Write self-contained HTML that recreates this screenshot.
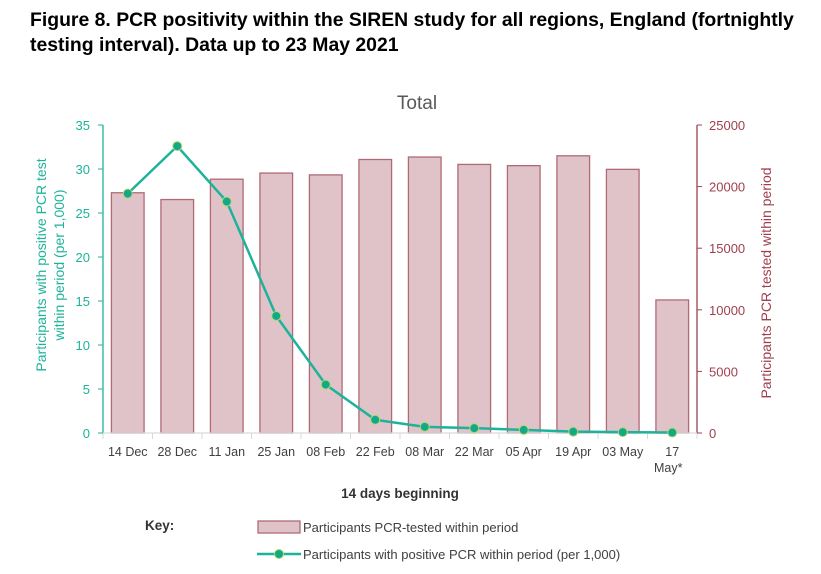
<!DOCTYPE html>
<html><head><meta charset="utf-8">
<style>
body{margin:0;background:#fff;width:821px;height:574px;overflow:hidden;font-family:"Liberation Sans",Arial,sans-serif}
h1{position:absolute;left:30px;top:8px;margin:0;font-size:19.4px;font-weight:bold;line-height:25px;color:#000;width:791px}
</style></head><body>
<h1>Figure 8. PCR positivity within the SIREN study for all regions, England (fortnightly testing interval). Data up to 23 May 2021</h1>
<svg id="c" width="821" height="574" style="position:absolute;left:0;top:0"></svg>
<script>
const categories=["14 Dec","28 Dec","11 Jan","25 Jan","08 Feb","22 Feb","08 Mar","22 Mar","05 Apr","19 Apr","03 May","17 May*"];
const testedValues=[19500,18950,20600,21100,20950,22200,22400,21800,21700,22500,21400,10800];
const positiveValues=[27.2,32.6,26.3,13.3,5.5,1.5,0.7,0.55,0.35,0.15,0.1,0.05];
const leftTicks=[0,5,10,15,20,25,30,35];
const rightTicks=[0,5000,10000,15000,20000,25000];
const svg=document.getElementById('c');const NS="http://www.w3.org/2000/svg";
function el(t,a,p){const e=document.createElementNS(NS,t);for(const k in a)e.setAttribute(k,a[k]);(p||svg).appendChild(e);return e;}
const X0=103,X1=697,Y0=433,Y1=125;
const bw=(X1-X0)/categories.length;
const yL=v=>Y0-(v/35)*(Y0-Y1);
const yR=v=>Y0-(v/25000)*(Y0-Y1);
const xC=i=>X0+bw*(i+0.5);
const teal="#1db39a",red="#a0404f";
let t=el('text',{x:417,y:109,'font-size':19,fill:'#595959','text-anchor':'middle','font-family':'Liberation Sans'});t.textContent='Total';

testedValues.forEach((v,i)=>{const r=el('rect',{x:xC(i)-bw*0.33,y:yR(v),width:bw*0.66,height:Y0-yR(v),fill:'#dfc3c8',stroke:'#b06a76','stroke-width':1.3});
});
el('line',{x1:X0,y1:Y1,x2:X0,y2:Y0,stroke:teal,'stroke-width':1.3});
el('line',{x1:X1,y1:Y1,x2:X1,y2:Y0,stroke:red,'stroke-width':1.3});
el('line',{x1:X0,y1:Y0,x2:X1,y2:Y0,stroke:'#d9d9d9','stroke-width':1.3});
for(let i=0;i<=categories.length;i++)el('line',{x1:X0+bw*i,y1:Y0,x2:X0+bw*i,y2:Y0+6,stroke:'#d9d9d9'});
leftTicks.forEach(v=>{el('line',{x1:X0-5,y1:yL(v),x2:X0,y2:yL(v),stroke:teal});
const tx=el('text',{x:X0-13,y:yL(v)+5,'font-size':13,fill:teal,'text-anchor':'end'});tx.textContent=v;
});
rightTicks.forEach(v=>{el('line',{x1:X1,y1:yR(v),x2:X1+5,y2:yR(v),stroke:red});
const tx=el('text',{x:X1+12,y:yR(v)+5,'font-size':13,fill:red});tx.textContent=v;
});
categories.forEach((c,i)=>{
 if(c==="17 May*"){let a=el('text',{x:xC(i),y:456,'font-size':12.5,fill:'#404040','text-anchor':'middle'});a.textContent='17';
 let b=el('text',{x:xC(i)-4,y:472,'font-size':12.5,fill:'#404040','text-anchor':'middle'});b.textContent='May*';
 }
 else{const tx=el('text',{x:xC(i),y:456,'font-size':12.5,fill:'#404040','text-anchor':'middle'});tx.textContent=c;
 }});
const pts=positiveValues.map((v,i)=>xC(i)+','+yL(v)).join(' ');
const pl=el('polyline',{points:pts,fill:'none',stroke:teal,'stroke-width':2.5});

positiveValues.forEach((v,i)=>{const c=el('circle',{cx:xC(i),cy:yL(v),r:4.5,fill:'#13a88c',stroke:'#b8d86a','stroke-width':1});
});
let yl=el('text',{transform:'translate(46,265) rotate(-90)','font-size':14,fill:teal,'text-anchor':'middle'});yl.textContent='Participants with positive PCR test';

let yl2=el('text',{transform:'translate(64,265) rotate(-90)','font-size':14,fill:teal,'text-anchor':'middle'});yl2.textContent='within period (per 1,000)';

let yr=el('text',{transform:'translate(771,283) rotate(-90)','font-size':14,fill:red,'text-anchor':'middle'});yr.textContent='Participants PCR tested within period';

let xt=el('text',{x:400,y:498,'font-size':13.5,'font-weight':'bold',fill:'#333','text-anchor':'middle'});xt.textContent='14 days beginning';

let k=el('text',{x:145,y:530,'font-size':13.5,'font-weight':'bold',fill:'#333'});k.textContent='Key:';

const lr=el('rect',{x:258,y:521,width:42,height:12,fill:'#dfc3c8',stroke:'#b06a76','stroke-width':1.3});

let l1=el('text',{x:303,y:532,'font-size':13,fill:'#404040'});l1.textContent='Participants PCR-tested within period';

el('line',{x1:257,y1:554,x2:301,y2:554,stroke:teal,'stroke-width':2.5});
el('circle',{cx:279,cy:554,r:4.5,fill:'#13a88c',stroke:'#b8d86a'});
let l2=el('text',{x:303,y:559,'font-size':13,fill:'#404040'});l2.textContent='Participants with positive PCR within period (per 1,000)';

</script>
</body></html>
